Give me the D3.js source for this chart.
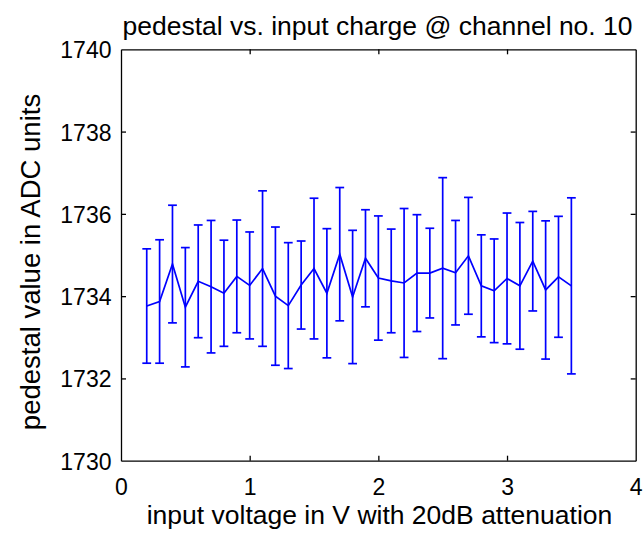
<!DOCTYPE html>
<html>
<head>
<meta charset="utf-8">
<script src="https://cdn.jsdelivr.net/npm/d3@7/dist/d3.min.js"></script>
<style>
  html, body { margin: 0; padding: 0; background: #fff; }
  svg { display: block; }
  text { font-family: "Liberation Sans", Arial, Helvetica, sans-serif; fill: #000; }
</style>
</head>
<body>
<svg id="chart" width="643" height="534"></svg>
<script>
// Input voltage steps (V, 20 dB attenuation)
const voltages = [0.2, 0.3, 0.4, 0.5, 0.6, 0.7, 0.8, 0.9, 1.0, 1.1, 1.2, 1.3, 1.4, 1.5, 1.6, 1.7, 1.8,
                  1.9, 2.0, 2.1, 2.2, 2.3, 2.4, 2.5, 2.6, 2.7, 2.8, 2.9, 3.0, 3.1, 3.2, 3.3, 3.4, 3.5];
// Mean pedestal (ADC units) per voltage step
const pedestalMean = [1733.76, 1733.87, 1734.78, 1733.73, 1734.36, 1734.23, 1734.07, 1734.48, 1734.26, 1734.67,
                      1734.00, 1733.77, 1734.27, 1734.67, 1734.07, 1735.02, 1733.98, 1734.92, 1734.44, 1734.37,
                      1734.32, 1734.56, 1734.56, 1734.68, 1734.57, 1734.98, 1734.25, 1734.13, 1734.43, 1734.25,
                      1734.85, 1734.15, 1734.47, 1734.25];
// Spread (one standard deviation) per voltage step
const pedestalErr = [1.39, 1.50, 1.43, 1.45, 1.37, 1.61, 1.29, 1.37, 1.30, 1.89,
                     1.68, 1.53, 1.07, 1.71, 1.57, 1.62, 1.62, 1.18, 1.51, 1.26,
                     1.81, 1.42, 1.09, 2.20, 1.27, 1.42, 1.24, 1.26, 1.59, 1.54,
                     1.21, 1.68, 1.47, 2.14];
const xTicks = [0, 1, 2, 3, 4];
const yTicks = [1730, 1732, 1734, 1736, 1738, 1740];

const titleText = "pedestal vs. input charge @ channel no. 10";
const xLabel = "input voltage in V with 20dB attenuation";
const yLabel = "pedestal value in ADC units";

const svg = d3.select("#chart");
const margin = { left: 121, top: 49.3, right: 643 - 635.7, bottom: 534 - 460.7 };
const W = 643 - margin.left - margin.right;
const H = 534 - margin.top - margin.bottom;

const x = d3.scaleLinear().domain([0, 4]).range([0, W]);
const y = d3.scaleLinear().domain([1730, 1740]).range([H, 0]);

const g = svg.append("g").attr("transform", `translate(${margin.left},${margin.top})`);

const tickLen = 5;
const tickFont = 23;
const labelFont = 26.5;

// Axes on all four sides, ticks pointing inward
const styleAxis = sel => {
  sel.select(".domain").attr("stroke", "#000").attr("stroke-width", 1.3);
  sel.selectAll(".tick line").attr("stroke", "#000").attr("stroke-width", 1.3);
  sel.selectAll("text").attr("font-size", tickFont).attr("font-family", '"Liberation Sans", Arial, sans-serif');
};

const xAxisG = g.append("g").attr("transform", `translate(0,${H})`)
  .call(d3.axisBottom(x).tickValues(xTicks).tickFormat(d3.format("d")).tickSizeInner(-tickLen).tickSizeOuter(0).tickPadding(0))
  .call(styleAxis);
xAxisG.selectAll(".tick text").attr("y", 495 - 460.7).attr("dy", 0);

g.append("g")
  .call(d3.axisTop(x).tickValues(xTicks).tickFormat("").tickSizeInner(-tickLen).tickSizeOuter(0))
  .call(styleAxis);

const yAxisG = g.append("g")
  .call(d3.axisLeft(y).tickValues(yTicks).tickFormat(d3.format("d")).tickSizeInner(-tickLen).tickSizeOuter(0).tickPadding(0))
  .call(styleAxis);
yAxisG.selectAll(".tick text").attr("x", 111.5 - 121).attr("dy", 8.5);

g.append("g").attr("transform", `translate(${W},0)`)
  .call(d3.axisRight(y).tickValues(yTicks).tickFormat("").tickSizeInner(-tickLen).tickSizeOuter(0))
  .call(styleAxis);

// Hide the end ticks that sit on the box corners
g.selectAll(".tick").filter(d => d === 0 || d === 4 || d === 1730 || d === 1740).select("line").attr("stroke", "none");

const data = voltages.map((v, i) => ({ v, m: pedestalMean[i], e: pedestalErr[i] }));
const blue = "#0000ff";
const capHalf = 4.4;
const lw = 1.7;

const bars = g.append("g").attr("class", "errorbars");
bars.selectAll("line.stem").data(data).join("line")
  .attr("class", "stem")
  .attr("x1", d => x(d.v)).attr("x2", d => x(d.v))
  .attr("y1", d => y(d.m - d.e)).attr("y2", d => y(d.m + d.e))
  .attr("stroke", blue).attr("stroke-width", lw);
bars.selectAll("line.capTop").data(data).join("line")
  .attr("class", "capTop")
  .attr("x1", d => x(d.v) - capHalf).attr("x2", d => x(d.v) + capHalf)
  .attr("y1", d => y(d.m + d.e)).attr("y2", d => y(d.m + d.e))
  .attr("stroke", blue).attr("stroke-width", lw);
bars.selectAll("line.capBot").data(data).join("line")
  .attr("class", "capBot")
  .attr("x1", d => x(d.v) - capHalf).attr("x2", d => x(d.v) + capHalf)
  .attr("y1", d => y(d.m - d.e)).attr("y2", d => y(d.m - d.e))
  .attr("stroke", blue).attr("stroke-width", lw);

g.append("path")
  .datum(data)
  .attr("fill", "none").attr("stroke", blue).attr("stroke-width", lw).attr("stroke-linejoin", "miter")
  .attr("d", d3.line().x(d => x(d.v)).y(d => y(d.m)));

// Titles
svg.append("text")
  .attr("x", 377.5).attr("y", 35)
  .attr("text-anchor", "middle").attr("font-size", labelFont)
  .text(titleText);
svg.append("text")
  .attr("x", 379.5).attr("y", 524)
  .attr("text-anchor", "middle").attr("font-size", labelFont)
  .text(xLabel);
svg.append("text")
  .attr("transform", `translate(40,262) rotate(-90)`)
  .attr("text-anchor", "middle").attr("font-size", 27.5)
  .text(yLabel);
</script>
</body>
</html>
